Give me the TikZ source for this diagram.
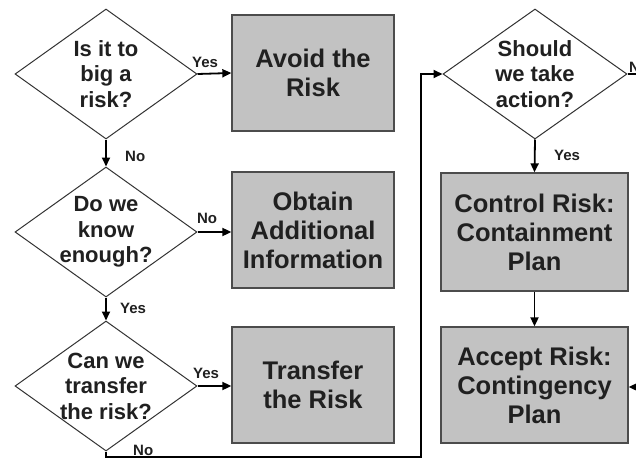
\documentclass[tikz,border=0pt]{standalone}
\usepackage{fontspec}
\setmainfont{Liberation Sans}
\usetikzlibrary{shapes.geometric,arrows.meta}

\definecolor{boxgray}{RGB}{194,194,194}
\definecolor{inkgray}{RGB}{32,32,32}

\newcommand{\askfont}{\fontsize{22}{25.5}\selectfont\bfseries}
\newcommand{\dofont}{\fontsize{25.5}{29}\selectfont\bfseries}
\newcommand{\ansfont}{\fontsize{15}{17}\selectfont\bfseries}

\tikzset{
  decision/.style={diamond, draw=black!80, line width=1pt, fill=white,
    shape aspect=1.42, inner sep=-4pt, minimum width=182pt,
    minimum height=130pt, align=center, font=\askfont, text=inkgray},
  action/.style={rectangle, draw=black!70, line width=1.3pt, fill=boxgray,
    minimum width=162pt, minimum height=116pt, align=center,
    font=\dofont, text=inkgray},
  flow/.style={line width=1.8pt, -{Triangle[length=9pt,width=8pt]}},
  answer/.style={font=\ansfont, text=inkgray, inner sep=1pt}
}

\begin{document}
\begin{tikzpicture}[x=1pt, y=-1pt]
  % page frame, same size as the picture
  \clip (0,0) rectangle (636,460);
  \fill[white] (0,0) rectangle (636,460);

  % Left column: the three questions
  \node[decision] (big) at (106,74) {Is it to\\big a\\risk?};
  \node[decision] (know) at (106,232) {Do we\\know\\enough?};
  \node[decision] (transfer) at (106,386) {Can we\\transfer\\the risk?};

  % Middle column: the answers
  \node[action] (avoid) at (313,73) {Avoid the\\Risk};
  \node[action] (obtain) at (313,230) {Obtain\\Additional\\Information};
  \node[action] (shift) at (313,385) {Transfer\\the Risk};

  % Right column
  \node[decision, minimum width=184pt] (act) at (535,74) {Should\\we take\\action?};
  \node[action, minimum width=187pt, minimum height=118pt] (control) at (534.5,232)
    {Control Risk:\\Containment\\Plan};
  \node[action, minimum width=187pt] (accept) at (534.5,385)
    {Accept Risk:\\Contingency\\Plan};

  % Yes / No branches
  \draw[flow] (big.east) -- (avoid.west);
  \node[answer, anchor=base] (yes1) at (205,67) {Yes};
  \draw[flow] (big.south) -- (know.north);
  \node[answer, anchor=base west] (no1) at (124,161) {No};

  \draw[flow] (know.east) -- (obtain.west |- know.east);
  \node[answer, anchor=base] (no2) at (207,223) {No};
  \draw[flow] (know.south) -- (transfer.north);
  \node[answer, anchor=base west] (yes2) at (119,313) {Yes};

  \draw[flow] (transfer.east) -- (shift.west |- transfer.east);
  \node[answer, anchor=base] (yes3) at (206,378) {Yes};

  % No from the last question leads to the right column
  \coordinate (low) at (106,457);
  \coordinate (turn) at (421,457);
  \draw[flow] (transfer.south) -- (low) -- (turn) |- (act.west);
  \node[answer, anchor=base west] (no3) at (132,455) {No};

  \draw[flow] (act.south) -- (control.north);
  \node[answer, anchor=base west] (yes4) at (553,160) {Yes};
  \draw[flow] (control.south) -- (accept.north);

  % cut off at the right edge
  \coordinate (out) at (660,74);
  \coordinate (in) at (660,387);
  \draw[line width=1.8pt] (act.east) -- (out);
  \node[answer, anchor=base west] (no4) at (628,72) {No};
  \draw[flow] (in) -- (accept.east |- in);
\end{tikzpicture}
\end{document}
